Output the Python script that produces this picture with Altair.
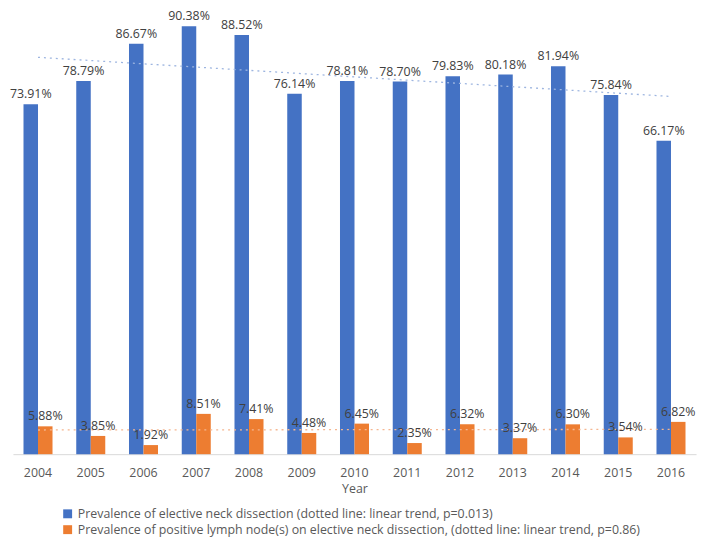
import altair as alt
import pandas as pd

years = [2004, 2005, 2006, 2007, 2008, 2009, 2010, 2011, 2012, 2013, 2014, 2015, 2016]
end_prev = [73.91, 78.79, 86.67, 90.38, 88.52, 76.14, 78.81, 78.70, 79.83, 80.18, 81.94, 75.84, 66.17]
pos_prev = [5.88, 3.85, 1.92, 8.51, 7.41, 4.48, 6.45, 2.35, 6.32, 3.37, 6.30, 3.54, 6.82]
series_names = [
    "Prevalence of elective neck dissection (dotted line: linear trend, p=0.013)",
    "Prevalence of positive lymph node(s) on elective neck dissection, (dotted line: linear trend, p=0.86)",
]
bar_colors = ["#4472C4", "#ED7D31"]
trend_colors = ["#9DB5E0", "#F5B690"]

rows = []
for i, y in enumerate(years):
    rows.append({"year": y, "series": series_names[0], "val": end_prev[i]})
    rows.append({"year": y, "series": series_names[1], "val": pos_prev[i]})
df = pd.DataFrame(rows)

FONT = "Open Sans"
FS = 12.5

x = alt.X("year:O", title="Year",
          scale=alt.Scale(paddingInner=0.45, paddingOuter=0.2),
          axis=alt.Axis(labelAngle=0, ticks=False, domainColor="#d9d9d9",
                        labelFontSize=FS, labelColor="#595959", labelPadding=13,
                        titleFontSize=FS, titleColor="#595959", titleFontWeight="normal",
                        titlePadding=3, labelFont=FONT, titleFont=FONT))
y = alt.Y("val:Q", scale=alt.Scale(domain=[0, 92], nice=False), axis=None)
xo = alt.XOffset("series:N", scale=alt.Scale(domain=series_names, paddingInner=0, paddingOuter=0))

base = alt.Chart(df)

bars = base.mark_bar().encode(
    x=x, y=y, xOffset=xo,
    color=alt.Color("series:N",
                    scale=alt.Scale(domain=series_names, range=bar_colors),
                    legend=alt.Legend(title=None, orient="none", legendX=49, legendY=494,
                                      direction="vertical", symbolType="square",
                                      symbolSize=81, symbolStrokeWidth=0,
                                      labelFontSize=FS, labelColor="#595959",
                                      labelLimit=700, rowPadding=3, labelFont=FONT)),
)

labels = base.transform_calculate(
    label="format(datum.val, '.2f') + '%'"
).mark_text(baseline="bottom", dy=-3, fontSize=FS, color="#404040", font=FONT).encode(
    x=x, y=y, xOffset=xo, text="label:N"
)

trend = base.transform_regression("year", "val", groupby=["series"]).mark_line(
    strokeDash=[2, 4], strokeWidth=1.3
).encode(
    x=x, y=y,
    stroke=alt.Stroke("series:N", scale=alt.Scale(domain=series_names, range=trend_colors), legend=None),
)

chart = alt.layer(bars, trend, labels).properties(
    width=690, height=440,
    padding={"left": 5, "right": 5, "top": 8, "bottom": 82},
    autosize=alt.AutoSizeParams(type="none"),
).configure(font=FONT).configure_view(stroke=None)

chart.save("out.html", embed_options={"renderer": "svg", "actions": False})
